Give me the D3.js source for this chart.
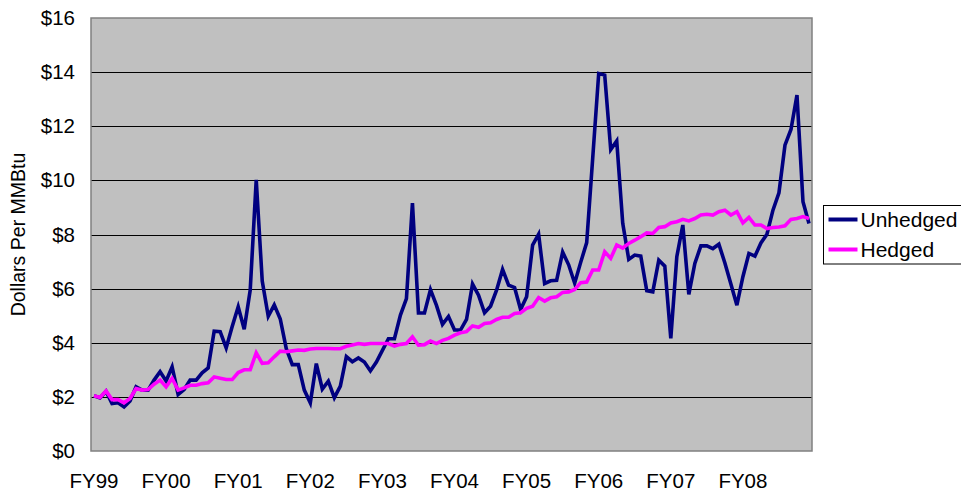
<!DOCTYPE html>
<html>
<head>
<meta charset="utf-8">
<script src="https://cdn.jsdelivr.net/npm/d3@7"></script>
<style>
  html, body { margin: 0; padding: 0; background: #fff; overflow: hidden; }
  svg { display: block; font-family: Arial, "Liberation Sans", sans-serif; }
</style>
</head>
<body>
<svg id="chart" width="961" height="494"></svg>
<script>
// Fiscal-year tick labels (one every 12 months)
const fyLabels = ["FY99", "FY00", "FY01", "FY02", "FY03", "FY04", "FY05", "FY06", "FY07", "FY08"];

// Monthly gas price, $/MMBtu, Jul 1998 – Jun 2008
const unhedged = [
  2.04, 1.96, 2.21, 1.75, 1.78, 1.63, 1.85, 2.37, 2.25, 2.25, 2.62, 2.93,
  2.59, 3.11, 2.09, 2.27, 2.62, 2.62, 2.89, 3.07, 4.43, 4.41, 3.81, 4.60,
  5.33, 4.50, 5.95, 10.02, 6.28, 4.98, 5.40, 4.88, 3.78, 3.19, 3.19, 2.25,
  1.78, 3.23, 2.29, 2.58, 1.97, 2.40, 3.49, 3.30, 3.44, 3.29, 2.96, 3.29,
  3.72, 4.15, 4.15, 5.02, 5.63, 9.16, 5.10, 5.10, 5.96, 5.38, 4.68, 4.97,
  4.47, 4.47, 4.86, 6.17, 5.76, 5.11, 5.35, 5.94, 6.71, 6.13, 6.04, 5.23,
  5.70, 7.61, 8.01, 6.19, 6.29, 6.31, 7.35, 6.88, 6.20, 6.97, 7.70, 10.81,
  13.95, 13.89, 11.14, 11.46, 8.41, 7.08, 7.24, 7.20, 5.92, 5.88, 7.05, 6.83,
  4.16, 7.18, 8.35, 5.79, 6.93, 7.58, 7.58, 7.48, 7.64, 6.95, 6.17, 5.39,
  6.44, 7.30, 7.20, 7.69, 8.01, 8.90, 9.54, 11.30, 11.88, 13.15, 9.21, 8.41
];

const hedged = [
  2.04, 1.98, 2.22, 1.90, 1.90, 1.78, 1.94, 2.31, 2.25, 2.27, 2.47, 2.62,
  2.37, 2.68, 2.25, 2.33, 2.43, 2.43, 2.49, 2.52, 2.74, 2.69, 2.64, 2.64,
  2.90, 3.00, 3.00, 3.63, 3.24, 3.26, 3.48, 3.69, 3.67, 3.70, 3.73, 3.72,
  3.77, 3.79, 3.79, 3.79, 3.78, 3.78, 3.87, 3.92, 3.97, 3.94, 3.97, 3.97,
  3.97, 3.97, 3.88, 3.94, 3.97, 4.22, 3.91, 3.93, 4.06, 3.97, 4.09, 4.16,
  4.28, 4.37, 4.41, 4.62, 4.57, 4.71, 4.74, 4.86, 4.94, 4.94, 5.08, 5.11,
  5.27, 5.35, 5.67, 5.54, 5.66, 5.70, 5.86, 5.88, 5.97, 6.22, 6.24, 6.69,
  6.69, 7.36, 7.12, 7.61, 7.50, 7.67, 7.79, 7.92, 8.06, 8.04, 8.26, 8.29,
  8.43, 8.47, 8.56, 8.50, 8.59, 8.72, 8.75, 8.72, 8.84, 8.90, 8.72, 8.84,
  8.43, 8.63, 8.35, 8.35, 8.22, 8.26, 8.28, 8.32, 8.56, 8.59, 8.66, 8.59
];

const yTicks = [0, 2, 4, 6, 8, 10, 12, 14, 16];

const seriesList = [
  { name: "Unhedged", values: unhedged, color: "#000080" },
  { name: "Hedged", values: hedged, color: "#FF00FF" }
];

const svg = d3.select("#chart");
const plot = { left: 91, right: 812, top: 18, bottom: 451 };

const months = d3.range(unhedged.length);
const x = d3.scaleBand().domain(months).range([plot.left, plot.right]).padding(0);
const xc = i => x(i) + x.bandwidth() / 2;
const y = d3.scaleLinear().domain([0, 16]).range([plot.bottom, plot.top]);

// Plot background
svg.append("rect")
  .attr("x", plot.left).attr("y", plot.top)
  .attr("width", plot.right - plot.left).attr("height", plot.bottom - plot.top)
  .attr("fill", "#C0C0C0");

// Horizontal gridlines
svg.append("g")
  .selectAll("line")
  .data(yTicks.filter(v => v > 0 && v < 16))
  .join("line")
  .attr("x1", plot.left).attr("x2", plot.right)
  .attr("y1", d => Math.round(y(d)) + 0.5).attr("y2", d => Math.round(y(d)) + 0.5)
  .attr("stroke", "#000").attr("stroke-width", 1);

// Plot frame
svg.append("rect")
  .attr("x", plot.left).attr("y", plot.top)
  .attr("width", plot.right - plot.left).attr("height", plot.bottom - plot.top)
  .attr("fill", "none").attr("stroke", "#808080").attr("stroke-width", 1.5);

// Y axis labels
const yAxis = d3.axisLeft(y).tickValues(yTicks).tickFormat(d => "$" + d).tickSize(0).tickPadding(16);
const gy = svg.append("g").attr("transform", `translate(${plot.left},0)`).call(yAxis);
gy.select(".domain").remove();
gy.selectAll("text").attr("font-size", 20.5).attr("fill", "#000")
  .attr("font-family", "Arial, 'Liberation Sans', sans-serif");

// X axis labels at the first month of each fiscal year
const xAxis = d3.axisBottom(x)
  .tickValues(fyLabels.map((_, k) => k * 12))
  .tickFormat(d => fyLabels[d / 12])
  .tickSize(0).tickPadding(22);
const gx = svg.append("g").attr("transform", `translate(0,${plot.bottom})`).call(xAxis);
gx.select(".domain").remove();
gx.selectAll("text").attr("font-size", 20.5).attr("fill", "#000")
  .attr("font-family", "Arial, 'Liberation Sans', sans-serif");

// Y axis title
svg.append("text")
  .attr("transform", `translate(25,${(plot.top + plot.bottom) / 2}) rotate(-90)`)
  .attr("text-anchor", "middle")
  .attr("font-size", 19.5)
  .text("Dollars Per MMBtu");

// Series lines
const line = d3.line().x((d, i) => xc(i)).y(d => y(d));
svg.append("g")
  .selectAll("path")
  .data(seriesList)
  .join("path")
  .attr("d", d => line(d.values))
  .attr("fill", "none")
  .attr("stroke", d => d.color)
  .attr("stroke-width", 3.6)
  .attr("stroke-linejoin", "miter")
  .attr("stroke-miterlimit", 4);

// Legend
const legend = svg.append("g").attr("transform", "translate(823.5,205.5)");
legend.append("rect")
  .attr("width", 160).attr("height", 58.5)
  .attr("fill", "#fff").attr("stroke", "#000").attr("stroke-width", 1);
const item = legend.selectAll("g.item")
  .data(seriesList)
  .join("g").attr("class", "item")
  .attr("transform", (d, i) => `translate(0,${14 + i * 30})`);
item.append("line")
  .attr("x1", 5).attr("x2", 34).attr("y1", 0).attr("y2", 0)
  .attr("stroke", d => d.color).attr("stroke-width", 4);
item.append("text")
  .attr("x", 37).attr("y", 0).attr("dy", "0.35em")
  .attr("font-size", 21)
  .text(d => d.name);
</script>
</body>
</html>
